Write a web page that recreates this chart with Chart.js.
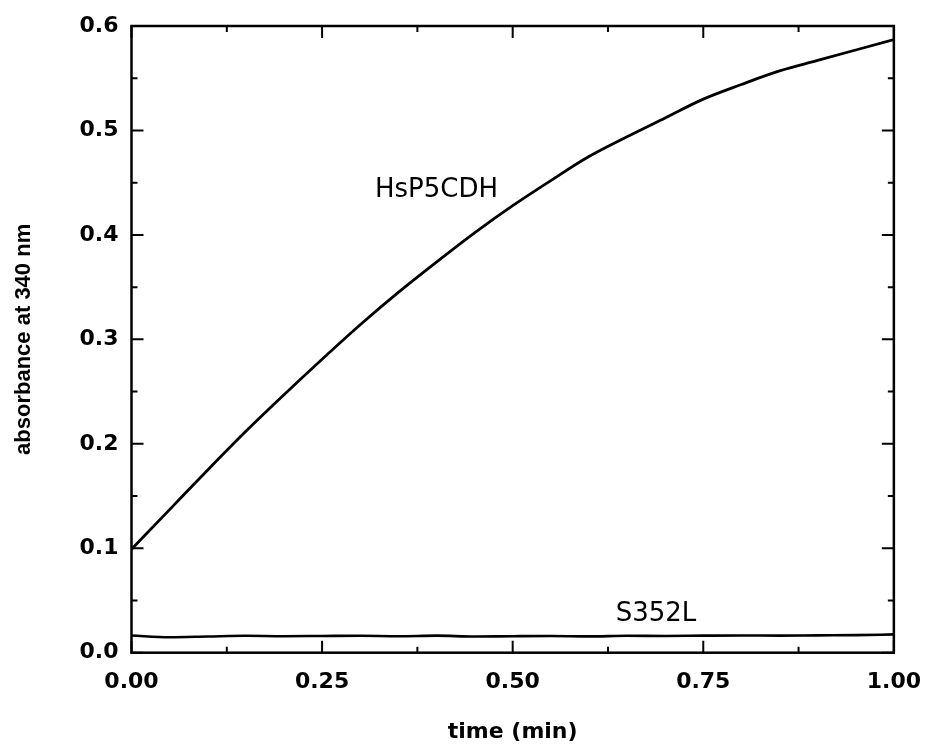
<!DOCTYPE html>
<html>
<head>
<meta charset="utf-8">
<script src="https://cdn.jsdelivr.net/npm/chart.js@4/dist/chart.umd.min.js"></script>
<style>
  html, body { margin: 0; padding: 0; background: #fff; }
  #wrap { width: 929px; height: 746px; }
</style>
</head>
<body>
<div id="wrap"><canvas id="chartKinetics"></canvas></div>
<script>
// time axis (min)
const timeMin = [0.00, 0.05, 0.10, 0.15, 0.20, 0.25, 0.30, 0.35, 0.40, 0.45, 0.50,
                 0.55, 0.60, 0.65, 0.70, 0.75, 0.80, 0.85, 0.90, 0.95, 1.00];
// absorbance at 340 nm
const hsP5CDH = [0.099, 0.137, 0.175, 0.212, 0.247, 0.281, 0.314, 0.345, 0.374, 0.402, 0.428,
                 0.452, 0.475, 0.494, 0.512, 0.530, 0.544, 0.557, 0.567, 0.577, 0.587];
const s352L = [0.0165, 0.0148, 0.0155, 0.0162, 0.0158, 0.0160, 0.0162, 0.0158, 0.0163, 0.0155, 0.0158,
               0.0160, 0.0156, 0.0162, 0.0160, 0.0163, 0.0165, 0.0163, 0.0166, 0.0168, 0.0175];

const xTicks = [0, 0.25, 0.5, 0.75, 1.0];
const yTicks = [0, 0.1, 0.2, 0.3, 0.4, 0.5, 0.6];

// curve labels: [text, x, y]
const curveLabels = [
    ["HsP5CDH", 0.40, 0.443],
    ["S352L", 0.688, 0.037]
];

function toPoints(xs, ys) {
    let pts = [];
    for (let i = 0; i < xs.length; i++) {
        pts.push({ x: xs[i], y: ys[i] });
    }
    return pts;
}

// frame with inward ticks on all four sides + curve labels
const framePlugin = {
    id: 'frame',
    afterDatasetsDraw(chart) {
        const ctx = chart.ctx;
        const a = chart.chartArea;
        const xs = chart.scales.x;
        const ys = chart.scales.y;
        const major = 12, minor = 6;
        ctx.save();
        ctx.strokeStyle = '#000';
        ctx.lineWidth = 2;
        ctx.beginPath();
        for (let i = 0; i < xTicks.length; i++) {
            let px = xs.getPixelForValue(xTicks[i]);
            ctx.moveTo(px, a.bottom); ctx.lineTo(px, a.bottom - major);
            ctx.moveTo(px, a.top); ctx.lineTo(px, a.top + major);
            if (i < xTicks.length - 1) {
                let mx = xs.getPixelForValue((xTicks[i] + xTicks[i + 1]) / 2);
                ctx.moveTo(mx, a.bottom); ctx.lineTo(mx, a.bottom - minor);
                ctx.moveTo(mx, a.top); ctx.lineTo(mx, a.top + minor);
            }
        }
        for (let i = 0; i < yTicks.length; i++) {
            let py = ys.getPixelForValue(yTicks[i]);
            ctx.moveTo(a.left, py); ctx.lineTo(a.left + major, py);
            ctx.moveTo(a.right, py); ctx.lineTo(a.right - major, py);
            if (i < yTicks.length - 1) {
                let my = ys.getPixelForValue((yTicks[i] + yTicks[i + 1]) / 2);
                ctx.moveTo(a.left, my); ctx.lineTo(a.left + minor, my);
                ctx.moveTo(a.right, my); ctx.lineTo(a.right - minor, my);
            }
        }
        ctx.stroke();
        ctx.lineWidth = 2.5;
        ctx.strokeRect(a.left, a.top, a.right - a.left, a.bottom - a.top);

        ctx.fillStyle = '#000';
        ctx.font = '26px "DejaVu Sans"';
        ctx.textAlign = 'center';
        ctx.textBaseline = 'middle';
        curveLabels.forEach((lbl) => {
            ctx.fillText(lbl[0], xs.getPixelForValue(lbl[1]), ys.getPixelForValue(lbl[2]));
        });
        ctx.restore();
    }
};

Chart.defaults.color = '#000';

const tickFont = { family: 'DejaVu Sans', size: 22, weight: 'bold' };

const chartKinetics = new Chart(document.getElementById('chartKinetics'), {
    type: 'line',
    data: {
        datasets: [{
            label: 'HsP5CDH',
            data: toPoints(timeMin, hsP5CDH),
            borderColor: '#000',
            borderWidth: 2.8,
            pointRadius: 0,
            cubicInterpolationMode: 'monotone',
        }, {
            label: 'S352L',
            data: toPoints(timeMin, s352L),
            borderColor: '#000',
            borderWidth: 2.6,
            pointRadius: 0,
            cubicInterpolationMode: 'monotone',
        }]
    },
    options: {
        responsive: true,
        maintainAspectRatio: false,
        animation: false,
        layout: { padding: { top: 26, right: 31, left: 0, bottom: 0 } },
        plugins: {
            legend: { display: false },
            tooltip: { enabled: false },
        },
        scales: {
            x: {
                type: 'linear',
                min: 0,
                max: 1,
                grid: { display: false },
                border: { display: false },
                afterBuildTicks: (scale) => { scale.ticks = xTicks.map((v) => ({ value: v })); },
                afterFit: (scale) => { scale.height = 93.3; },
                ticks: {
                    font: tickFont,
                    padding: 8,
                    maxRotation: 0,
                    callback: (v) => Number(v).toFixed(2),
                },
                title: {
                    display: true,
                    text: 'time (min)',
                    font: { family: 'DejaVu Sans', size: 22, weight: 'bold' },
                    padding: { top: 0, bottom: 1 },
                },
            },
            y: {
                type: 'linear',
                min: 0,
                max: 0.6,
                grid: { display: false },
                border: { display: false },
                afterBuildTicks: (scale) => { scale.ticks = yTicks.map((v) => ({ value: v })); },
                afterFit: (scale) => { scale.width = 131.5; },
                ticks: {
                    font: tickFont,
                    padding: 5,
                    callback: (v) => Number(v).toFixed(1),
                },
                title: {
                    display: true,
                    text: 'absorbance at 340 nm',
                    font: { family: 'Liberation Sans', size: 22, weight: 'bold' },
                    padding: { top: 11, bottom: 0 },
                },
            }
        }
    },
    plugins: [framePlugin]
});
</script>
</body>
</html>
